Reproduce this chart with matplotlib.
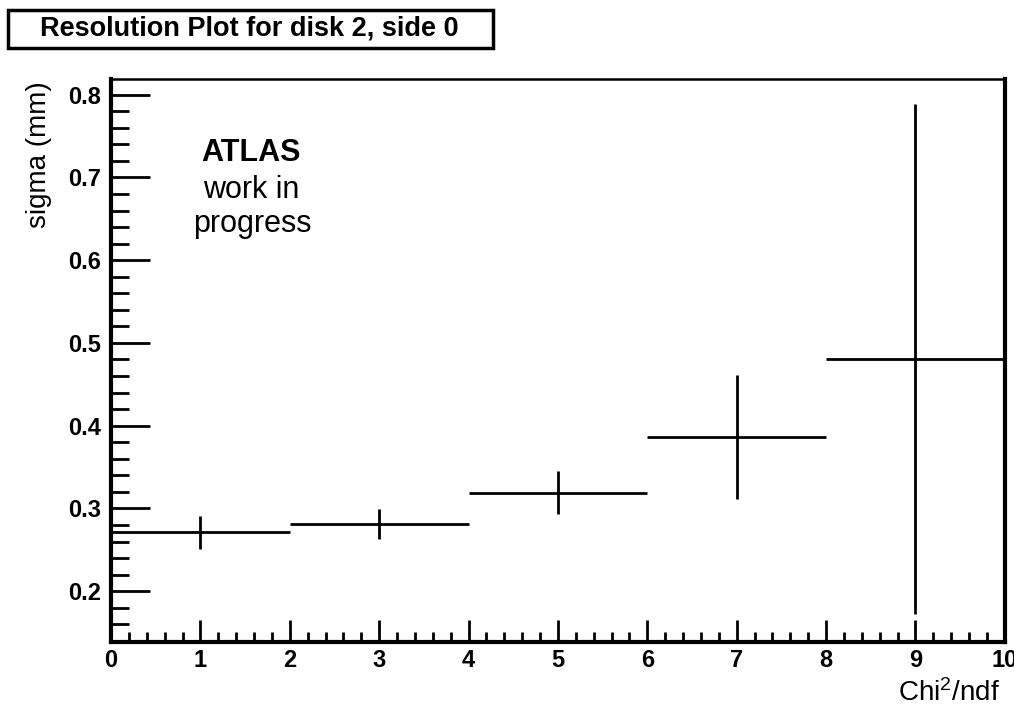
import matplotlib
matplotlib.use("Agg")
import matplotlib.pyplot as plt
from matplotlib.patches import Rectangle
from matplotlib.ticker import AutoMinorLocator

# 数据：每个 chi2/ndf 区间的分辨率
bin_centers = [1, 3, 5, 7, 9]
bin_halfwidth = [1, 1, 1, 1, 1]
sigma = [0.271, 0.281, 0.319, 0.386, 0.481]
sigma_err = [0.020, 0.018, 0.026, 0.075, 0.308]
x_ticks = [0, 1, 2, 3, 4, 5, 6, 7, 8, 9, 10]
y_ticks = [0.2, 0.3, 0.4, 0.5, 0.6, 0.7, 0.8]

plt.rcParams["font.family"] = ["Liberation Sans", "DejaVu Sans"]
plt.rcParams["mathtext.fontset"] = "custom"
plt.rcParams["mathtext.rm"] = "Liberation Sans"
plt.rcParams["mathtext.it"] = "Liberation Sans"

W, H = 1014, 705
fig = plt.figure(figsize=(W / 100, H / 100), dpi=100)
ax = fig.add_axes([0.1095, 0.0894, 0.8815, 0.7986])

ax.errorbar(bin_centers, sigma, xerr=bin_halfwidth, yerr=sigma_err,
            fmt="none", ecolor="black", elinewidth=2, capsize=0)

ax.set_xlim(0, 10)
ax.set_ylim(0.1386, 0.819)
ax.set_xticks(x_ticks)
ax.set_yticks(y_ticks)
ax.xaxis.set_minor_locator(AutoMinorLocator(5))
ax.yaxis.set_minor_locator(AutoMinorLocator(5))
ax.tick_params(axis="both", which="both", direction="in", width=2, color="black",
               top=False, right=False)
ax.tick_params(axis="x", which="major", length=16, pad=5)
ax.tick_params(axis="x", which="minor", length=7)
ax.tick_params(axis="y", which="major", length=28, pad=7)
ax.tick_params(axis="y", which="minor", length=13)
for lab in ax.get_xticklabels() + ax.get_yticklabels():
    lab.set_fontsize(17)
    lab.set_fontweight("bold")

for side in ["left", "bottom", "right"]:
    ax.spines[side].set_linewidth(3)
ax.spines["top"].set_linewidth(1.8)

# 坐标轴标题
fig.text(949 / W, 1 - 701 / H, "Chi$^{2}$/ndf", fontsize=20, ha="center", va="baseline")
fig.text(39 / W, 1 - 155 / H, "sigma (mm)", fontsize=20, rotation=90,
         ha="center", va="center")

fig.text(251 / W, 1 - 153 / H, "ATLAS", fontsize=22, fontweight="bold",
         ha="center", va="center")
fig.text(251 / W, 1 - 190 / H, "work in", fontsize=22, ha="center", va="center")
fig.text(252 / W, 1 - 224 / H, "progress", fontsize=22, ha="center", va="center")

# 标题框
fig.patches.append(Rectangle((8 / W, 1 - 48 / H), 485 / W, 38 / H, transform=fig.transFigure,
                             facecolor="white", edgecolor="black", linewidth=2.5))
fig.text(249 / W, 1 - 29 / H, "Resolution Plot for disk 2, side 0",
         fontsize=19.5, fontweight="bold", ha="center", va="center")

fig.savefig("out.png", dpi=100)
